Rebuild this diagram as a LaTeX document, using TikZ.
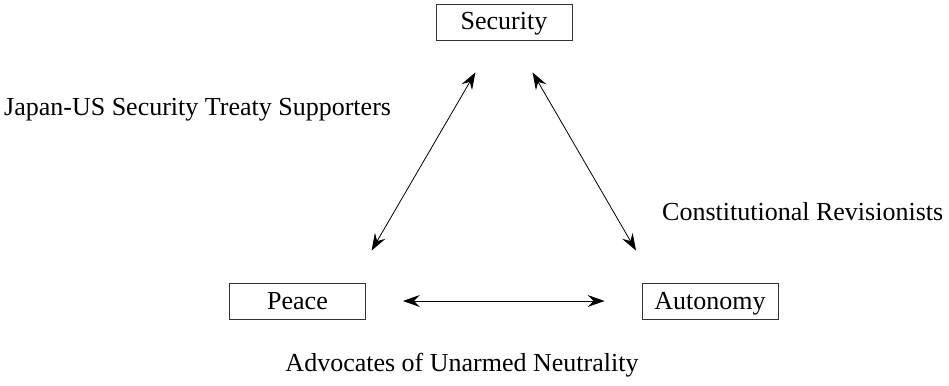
\documentclass[tikz,border=0pt]{standalone}
\usepackage{fontspec}
\setmainfont{Liberation Serif}
\usetikzlibrary{arrows.meta,calc}
\begin{document}
\begin{tikzpicture}[x=1pt,y=-1pt,font=\fontsize{26}{30}\selectfont,
    box/.style={draw=black!80,line width=0.9pt,minimum width=136pt,minimum height=36pt,inner sep=0pt,text height=16pt,text depth=0pt},
    lbl/.style={inner sep=0pt},
    link/.style={{Stealth[length=17pt,width=12pt,inset=6pt]}-{Stealth[length=17pt,width=12pt,inset=6pt]},line width=0.8pt,shorten <=37pt,shorten >=37pt}]
  \useasboundingbox (0,0) rectangle (949,385);
  \node [box] (sec) at (504,22) {Security};
  \node [box] (peace) at (297.5,301) {Peace};
  \node [box] (auto) at (710,301) {Autonomy};

  \draw[link] ($(peace.north east)+(-13,0)$) -- ($(sec.south)+(-10,0)$);
  \draw[link] ($(sec.south)+(10,0)$) -- ($(auto.north west)+(13,0)$);
  \draw[link] (peace) -- (auto);

  \node [lbl,anchor=base west] (jus) at (4,115) {Japan-US Security Treaty Supporters};
  \node [lbl,anchor=base west] (crev) at (662,220) {Constitutional Revisionists};
  \node [lbl,anchor=base] (aun) at (462,371) {Advocates of Unarmed Neutrality};
\end{tikzpicture}
\end{document}
